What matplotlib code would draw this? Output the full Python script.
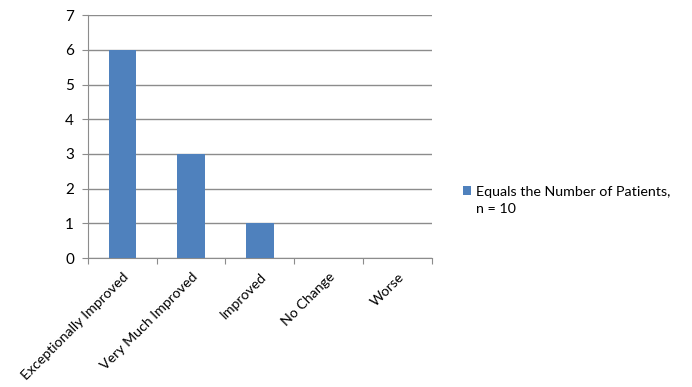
import matplotlib.pyplot as plt
from matplotlib.patches import Rectangle
from matplotlib.container import BarContainer
from matplotlib.legend_handler import HandlerPatch

categories = ['Exceptionally Improved', 'Very Much Improved', 'Improved', 'No Change', 'Worse']
patients = [6, 3, 1, 0, 0]
series_label = 'Equals the Number of Patients,\nn = 10'
yticks = [0, 1, 2, 3, 4, 5, 6, 7]

plt.rcParams['font.family'] = ['Lato', 'DejaVu Sans']
grey = '#8c8c8c'

fig = plt.figure(figsize=(6.92, 3.87), dpi=100)
ax = fig.add_axes([0.127, 0.333, 0.497, 0.628])

x = list(range(len(categories)))
bars = ax.bar(x, patients, width=0.4, color='#4f81bd', zorder=3, label=series_label)

ax.set_xlim(-0.5, len(categories) - 0.5)
ax.set_ylim(0, 7)
ax.set_yticks(yticks)
ax.yaxis.grid(True, color=grey, linewidth=1)
ax.set_axisbelow(True)

# ticks sit on category boundaries, labels at centres
ax.set_xticks([i - 0.5 for i in range(len(categories) + 1)])
ax.set_xticklabels([])
ax.set_xticks(x, minor=True)
ax.set_xticklabels(categories, minor=True, rotation=45, ha='right', va='top',
                   rotation_mode='anchor', fontsize=10.2)
ax.tick_params(axis='x', which='minor', length=0, pad=9)
ax.tick_params(axis='x', which='major', length=4, color=grey, direction='out')
ax.tick_params(axis='y', length=4, color=grey, labelsize=11, pad=6)

for side in ['top', 'right']:
    ax.spines[side].set_visible(False)
for side in ['left', 'bottom']:
    ax.spines[side].set_color(grey)


# put the legend swatch level with the first text line, like Excel does
def top_square(legend, orig_handle, xdescent, ydescent, width, height, fontsize):
    return Rectangle((-xdescent, -ydescent + 0.72 * fontsize), width, height)


def copy_colour(legend_handle, orig_handle):
    legend_handle.update_from(orig_handle.patches[0])


leg = fig.legend(loc='center left', bbox_to_anchor=(0.65, 0.482), frameon=False,
                 fontsize=10.3, handlelength=0.6, handleheight=0.6, handletextpad=0.35,
                 handler_map={BarContainer: HandlerPatch(patch_func=top_square,
                                                         update_func=copy_colour)})
for t in leg.get_texts():
    t.set_linespacing(1.55)

fig.savefig('out.png', dpi=100)
